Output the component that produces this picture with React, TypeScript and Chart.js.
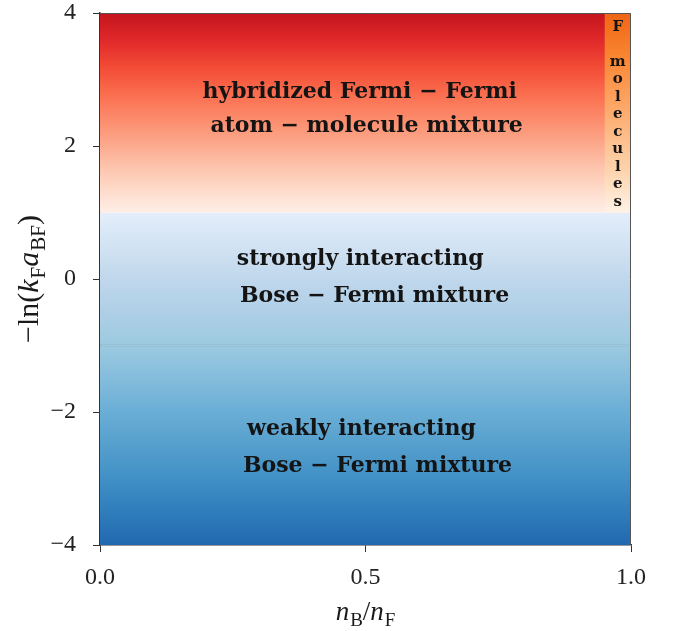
import React, { useEffect, useRef } from "react";
import { Chart, registerables } from "chart.js";

Chart.register(...registerables);

// Axis ranges and ticks
const xRange = [0, 1];
const yRange = [-4, 4];
const xTicks = [0, 0.5, 1];
const yTicks = [-4, -2, 0, 2, 4];

// Phase regions: [x0, x1, yTop, yBottom]
const redRegion = [0, 1, 4, 1];
const blueUpperRegion = [0, 1, 1, -1];
const blueLowerRegion = [0, 1, -1, -4];
const moleculeStrip = [0.95, 1, 4, 1];

// Colour ramps: value -> colour
const redStopValues = [4.0, 3.6, 3.2, 2.8, 2.4, 2.0, 1.6, 1.2, 1.0];
const redStopColors = ["#c3141d", "#e0282a", "#f24a35", "#fa6c4d", "#fb8c6c", "#fcab8f", "#fdcab4", "#fee3d6", "#ffeee6"];
const blueStopValues = [1.0, 0.5, 0.0, -0.5, -1.0, -1.5, -2.0, -2.5, -3.0, -3.5, -4.0];
const blueStopColors = ["#e3eefa", "#d2e3f3", "#c0d7ec", "#aecfe6", "#9ccae0", "#84bcdc", "#6aaed6", "#559fcd", "#4190c6", "#2f7dbb", "#2268af"];
const orangeStopValues = [4.0, 3.4, 2.8, 2.2, 1.6, 1.0];
const orangeStopColors = ["#ee6515", "#f8832e", "#fd9e58", "#fdba85", "#fdd5b0", "#fff2e6"];

// Region boundary drawn as a faint line
const boundaryValue = -1;

// Region labels (anchored at text centre / baseline, data units)
const labelTexts = [
  "hybridized Fermi \u2212 Fermi",
  "atom \u2212 molecule mixture",
  "strongly interacting",
  "Bose \u2212 Fermi mixture",
  "weakly interacting",
  "Bose \u2212 Fermi mixture",
];
const labelX = [0.489, 0.502, 0.49, 0.517, 0.4925, 0.5226];
const labelY = [2.722, 2.211, 0.211, -0.346, -2.346, -2.902];

// Vertical label inside the molecule strip
const stripLetters = ["F", "", "m", "o", "l", "e", "c", "u", "l", "e", "s"];
const stripLabelX = 0.975;
const stripLabelTopY = 3.79;
const stripLabelStep = 0.263;

function rampGradient(chart: any, values: number[], colors: string[]) {
  const { chartArea, scales } = chart;
  if (!chartArea) return "rgba(0,0,0,0)";
  const y = scales.y;
  const top = values[0];
  const bottom = values[values.length - 1];
  const g = chart.ctx.createLinearGradient(0, y.getPixelForValue(top), 0, y.getPixelForValue(bottom));
  values.forEach((v, i) => g.addColorStop((top - v) / (top - bottom), colors[i]));
  return g;
}

function regionDataset(region: number[], values: number[], colors: string[], order: number) {
  const [x0, x1, yTop, yBottom] = region;
  return {
    data: [
      { x: x0, y: yTop },
      { x: x1, y: yTop },
    ],
    fill: { value: yBottom },
    backgroundColor: (ctx: any) => rampGradient(ctx.chart, values, colors),
    borderWidth: 0,
    pointRadius: 0,
    showLine: true,
    tension: 0,
    order,
  };
}

const SERIF = '"Liberation Serif", "DejaVu Serif", serif';

// Draws math-like runs: [text, italic, subscript]
function drawRuns(ctx: CanvasRenderingContext2D, runs: [string, boolean, boolean][], size: number) {
  const subSize = Math.round(size * 0.7);
  const fontFor = (it: boolean, sub: boolean) => `${it ? "italic " : ""}${sub ? subSize : size}px ${SERIF}`;
  let total = 0;
  runs.forEach(([t, it, sub]) => {
    ctx.font = fontFor(it, sub);
    total += ctx.measureText(t).width + (it ? 1 : 0);
  });
  let x = -total / 2;
  runs.forEach(([t, it, sub]) => {
    ctx.font = fontFor(it, sub);
    ctx.fillText(t, x, sub ? size * 0.22 : 0);
    x += ctx.measureText(t).width + (it ? 1 : 0);
  });
}

const overlayPlugin = {
  id: "phaseOverlay",
  afterDatasetsDraw(chart: any) {
    const { ctx, chartArea, scales } = chart;
    const { x, y } = scales;
    ctx.save();

    // faint boundary between interacting regimes
    const by = y.getPixelForValue(boundaryValue);
    ctx.strokeStyle = "rgba(70,110,150,0.16)";
    ctx.lineWidth = 2;
    ctx.beginPath();
    ctx.moveTo(chartArea.left, by);
    ctx.lineTo(chartArea.right, by);
    ctx.stroke();

    // region labels
    ctx.fillStyle = "#141414";
    ctx.font = `bold 22px "DejaVu Serif", serif`;
    ctx.textAlign = "center";
    ctx.textBaseline = "alphabetic";
    labelTexts.forEach((t, i) => {
      ctx.fillText(t, x.getPixelForValue(labelX[i]), y.getPixelForValue(labelY[i]));
    });

    // strip label
    ctx.font = `bold 15px "DejaVu Serif", serif`;
    ctx.textBaseline = "middle";
    const sx = x.getPixelForValue(stripLabelX);
    stripLetters.forEach((c, i) => {
      if (c) ctx.fillText(c, sx, y.getPixelForValue(stripLabelTopY - i * stripLabelStep));
    });

    // frame on top and right
    ctx.strokeStyle = "#555";
    ctx.lineWidth = 1;
    ctx.beginPath();
    ctx.moveTo(chartArea.left, chartArea.top + 0.5);
    ctx.lineTo(chartArea.right - 0.5, chartArea.top + 0.5);
    ctx.lineTo(chartArea.right - 0.5, chartArea.bottom);
    ctx.stroke();

    // axis titles
    ctx.fillStyle = "#1a1a1a";
    ctx.textAlign = "left";
    ctx.textBaseline = "alphabetic";
    ctx.save();
    ctx.translate((chartArea.left + chartArea.right) / 2, chart.height - 11);
    drawRuns(
      ctx,
      [
        ["n", true, false],
        ["B", false, true],
        ["/", false, false],
        ["n", true, false],
        ["F", false, true],
      ],
      27
    );
    ctx.restore();

    ctx.save();
    ctx.translate(38, (chartArea.top + chartArea.bottom) / 2);
    ctx.rotate(-Math.PI / 2);
    drawRuns(
      ctx,
      [
        ["\u2212ln(", false, false],
        ["k", true, false],
        ["F", false, true],
        ["a", true, false],
        ["BF", false, true],
        [")", false, false],
      ],
      30
    );
    ctx.restore();

    ctx.restore();
  },
};

export default function App() {
  const ref = useRef<HTMLCanvasElement>(null);

  useEffect(() => {
    document.body.style.margin = "0";
    const canvas = ref.current;
    if (!canvas) return;
    const tickFont = { family: SERIF, size: 24 };
    const chart = new Chart(canvas, {
      type: "scatter",
      data: {
        datasets: [
          regionDataset(moleculeStrip, orangeStopValues, orangeStopColors, 0),
          regionDataset(redRegion, redStopValues, redStopColors, 1),
          regionDataset(blueUpperRegion, blueStopValues, blueStopColors, 1),
          regionDataset(blueLowerRegion, blueStopValues, blueStopColors, 1),
        ] as any,
      },
      options: {
        animation: false,
        responsive: false,
        maintainAspectRatio: false,
        layout: { padding: { top: 13, right: 42, bottom: 0, left: 0 } },
        plugins: {
          legend: { display: false },
          tooltip: { enabled: false },
        },
        scales: {
          x: {
            type: "linear",
            min: xRange[0],
            max: xRange[1],
            afterBuildTicks: (s: any) => {
              s.ticks = xTicks.map((v) => ({ value: v }));
            },
            afterFit: (s: any) => {
              s.height = 86;
              s.paddingLeft = 0;
              s.paddingRight = 0;
            },
            ticks: {
              font: tickFont,
              color: "#222",
              padding: 11,
              maxRotation: 0,
              callback: (v: any) => Number(v).toFixed(1),
            },
            grid: { drawOnChartArea: false, drawTicks: true, tickLength: 7, color: "#333" },
            border: { display: true, color: "#333", width: 1.5 },
          },
          y: {
            type: "linear",
            min: yRange[0],
            max: yRange[1],
            afterBuildTicks: (s: any) => {
              s.ticks = yTicks.map((v) => ({ value: v }));
            },
            afterFit: (s: any) => {
              s.width = 100;
              s.paddingTop = 0;
              s.paddingBottom = 0;
            },
            ticks: {
              font: tickFont,
              color: "#222",
              padding: 17,
              callback: (v: any) => (Number(v) < 0 ? "\u2212" + Math.abs(Number(v)) : String(v)),
            },
            grid: { drawOnChartArea: false, drawTicks: true, tickLength: 7, color: "#333" },
            border: { display: true, color: "#333", width: 1.5 },
          },
        },
      },
      plugins: [overlayPlugin],
    });
    return () => chart.destroy();
  }, []);

  return (
    <div style={{ width: 673, height: 631 }}>
      <canvas ref={ref} width={673} height={631} style={{ display: "block" }} />
    </div>
  );
}
